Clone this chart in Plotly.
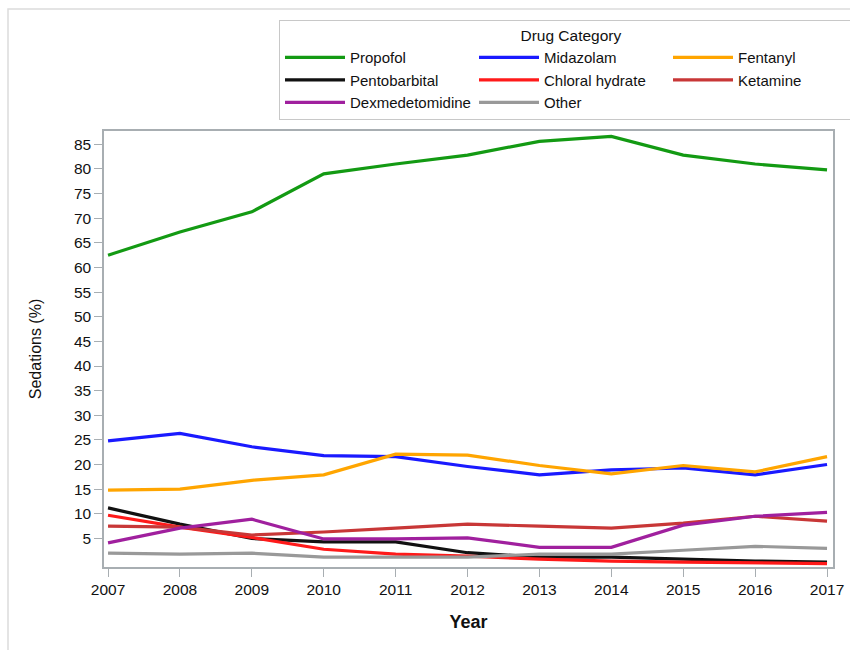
import plotly.graph_objects as go

years = [2007, 2008, 2009, 2010, 2011, 2012, 2013, 2014, 2015, 2016, 2017]

propofol = [62.5, 67.2, 71.3, 79.0, 81.0, 82.8, 85.6, 86.6, 82.8, 81.0, 79.8]
midazolam = [24.8, 26.3, 23.6, 21.8, 21.6, 19.6, 17.9, 18.9, 19.3, 17.9, 20.0]
fentanyl = [14.8, 15.0, 16.8, 17.9, 22.1, 21.9, 19.8, 18.1, 19.8, 18.5, 21.6]
pentobarbital = [11.2, 7.9, 5.0, 4.3, 4.3, 2.1, 1.2, 1.2, 0.8, 0.4, 0.2]
chloral = [9.7, 7.3, 5.2, 2.8, 1.8, 1.4, 0.8, 0.4, 0.2, 0.0, -0.1]
ketamine = [7.5, 7.3, 5.7, 6.3, 7.1, 7.9, 7.5, 7.1, 8.1, 9.5, 8.5]
dexmed = [4.1, 7.1, 8.9, 4.9, 4.9, 5.1, 3.2, 3.2, 7.7, 9.5, 10.3]
other = [2.0, 1.8, 2.0, 1.2, 1.2, 1.2, 1.8, 1.8, 2.6, 3.4, 3.0]

series_names = ["Propofol", "Midazolam", "Fentanyl", "Pentobarbital",
                "Chloral hydrate", "Ketamine", "Dexmedetomidine", "Other"]
series_values = [propofol, midazolam, fentanyl, pentobarbital,
                 chloral, ketamine, dexmed, other]
series_colors = ["#139a13", "#1a1aff", "#ffa500", "#111111",
                 "#ff1a1a", "#c83737", "#a0209e", "#999999"]

y_ticks = list(range(5, 90, 5))

fig = go.Figure()
for name, vals, col in zip(series_names, series_values, series_colors):
    fig.add_trace(go.Scatter(x=years, y=vals, mode="lines", name=name,
                             line=dict(color=col, width=3.2)))

font_family = "Liberation Sans, Arial, sans-serif"

W, H = 850, 650
L, R, T, B = 104, 17, 131, 83
pw, ph = W - L - R, H - T - B


def px_to_paper_x(px):
    return (px - L) / pw


def px_to_paper_y(py):
    return (H - B - py) / ph


# faint outer image frame
fig.add_shape(type="rect", xref="paper", yref="paper",
              x0=px_to_paper_x(8), x1=px_to_paper_x(870),
              y0=px_to_paper_y(670), y1=px_to_paper_y(9),
              line=dict(color="#dcdcdc", width=1.5), layer="below")

fig.update_layout(
    width=W, height=H,
    margin=dict(l=L, r=R, t=T, b=B, autoexpand=False),
    paper_bgcolor="white", plot_bgcolor="white",
    font=dict(family=font_family, size=15.5, color="#111111"),
    showlegend=True,
    legend=dict(
        title=dict(text="Drug Category", side="top center",
                   font=dict(size=15.5, family=font_family)),
        orientation="h",
        xref="container", yref="container",
        x=279 / W, y=1 - 20 / H, xanchor="left", yanchor="top",
        entrywidth=119, entrywidthmode="pixels",
        itemwidth=60,
        bordercolor="#c8c8c8", borderwidth=1,
        font=dict(size=15, family=font_family),
        tracegroupgap=0,
    ),
    xaxis=dict(
        range=[2006.944, 2017.083],
        tickmode="array", tickvals=years, ticktext=[str(y) for y in years],
        showgrid=False, zeroline=False,
        showline=True, linecolor="#a8aeb2", linewidth=1.5, mirror=True,
        ticks="outside", ticklen=8, tickcolor="#a8aeb2",
        tickfont=dict(size=15.5),
        title=dict(text="<b>Year</b>", font=dict(size=18), standoff=18),
    ),
    yaxis=dict(
        range=[-0.8, 87.7],
        tickmode="array", tickvals=y_ticks, ticktext=[str(v) for v in y_ticks],
        showgrid=False, zeroline=False,
        showline=True, linecolor="#a8aeb2", linewidth=1.5, mirror=True,
        ticks="outside", ticklen=8, tickcolor="#a8aeb2",
        tickfont=dict(size=15.5),
        title=dict(text="Sedations (%)", font=dict(size=16), standoff=28),
    ),
)

fig.write_html("out.html", config={"displayModeBar": False},
               post_script="document.body.style.margin='0';")
